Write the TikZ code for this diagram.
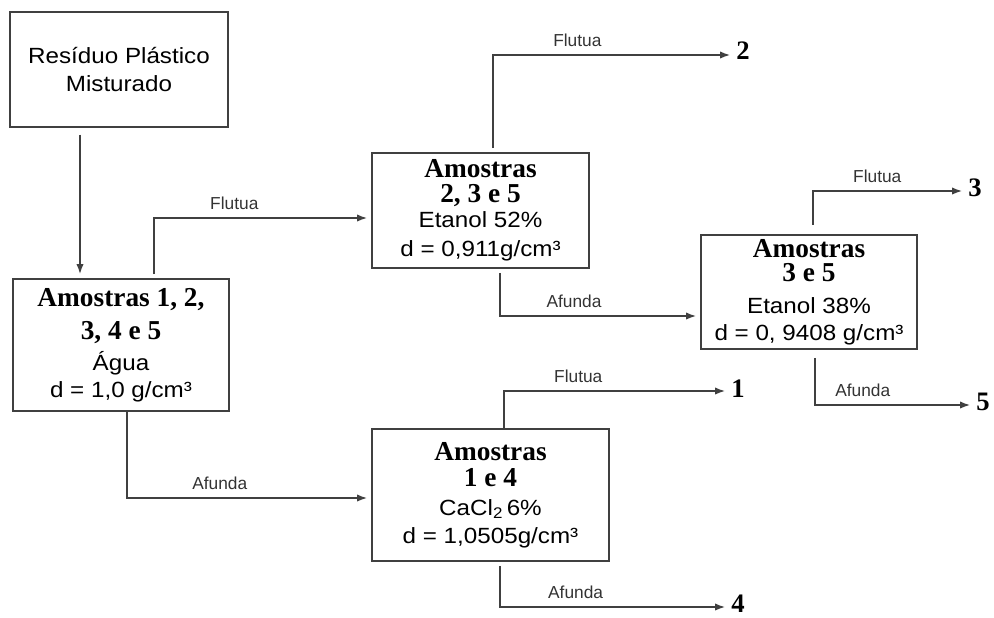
\documentclass[tikz,border=0pt]{standalone}
\usepackage{fontspec}
\setmainfont{Liberation Sans}
\newfontfamily\largo{Liberation Sans}[FakeStretch=1.1]
\newfontfamily\amfont{Liberation Serif}
\usetikzlibrary{arrows.meta,positioning}

\tikzset{
  caixa/.style={draw=black!75, line width=1.4pt, align=center, inner sep=0pt,
    font=\largo\fontsize{16.5}{22}\selectfont},
  fluxo/.style={draw=black!75, line width=1.1pt, shorten <=3pt, shorten >=3pt,
    -{Latex[length=7.5pt,width=5.5pt]}},
  rotulo/.style={font=\fontsize{13}{14}\selectfont, text=black!80, above=2pt},
  saida/.style={font=\amfont\bfseries\fontsize{20}{20}\selectfont, inner sep=1.5pt},
}
\newcommand{\amtit}[1]{{\amfont\bfseries\fontsize{20.5}{20}\selectfont #1}}

\begin{document}
\begin{tikzpicture}[x=0.75pt,y=-0.75pt]
  \useasboundingbox (0,0) rectangle (994,617);

  % caixas
  \node[caixa, minimum width=163.5pt, minimum height=86.25pt] (res) at (119,69.5)
    {Resíduo Plástico\\[-1pt]Misturado};
  \node[caixa, minimum width=162pt, minimum height=99pt] (agua) at (121,345)
    {\amtit{Amostras 1, 2,}\\[3pt]\amtit{3, 4 e 5}\\[1pt]Água\\[-2pt]d = 1,0 g/cm³};
  \node[caixa, minimum width=162.75pt, minimum height=86.25pt] (etanol52) at (480.5,210.5)
    {\amtit{Amostras}\\[-3.5pt]\amtit{2, 3 e 5}\\[-3.5pt]Etanol 52\%\\d = 0,911g/cm³};
  \node[caixa, minimum width=162pt, minimum height=85.5pt] (etanol38) at (809,292)
    {\amtit{Amostras}\\[-3.5pt]\amtit{3 e 5}\\[2pt]Etanol 38\%\\[-2pt]d = 0, 9408 g/cm³};
  \node[caixa, minimum width=177.75pt, minimum height=99pt] (cacl2) at (490.5,495)
    {\amtit{Amostras}\\[-2.5pt]\amtit{1 e 4}\\CaCl\textsubscript{2}\,6\%\\[-1pt]d = 1,0505g/cm³};

  % saidas
  \node[saida] (s2) at (743,51) {2};
  \node[saida] (s3) at (975,188) {3};
  \node[saida] (s1) at (738,389) {1};
  \node[saida] (s5) at (983,402) {5};
  \node[saida] (s4) at (738,604) {4};

  % ligacoes
  \coordinate (ra) at (80,0);
  \draw[fluxo, shorten <=5pt] (res.south -| ra) -- (agua.north -| ra);

  \coordinate (af) at (154,218);
  \draw[fluxo] (agua.north -| af) -- (af) -- node[rotulo, pos=.37] {Flutua} (af -| etanol52.west);
  \coordinate (aa) at (127,498);
  \draw[fluxo, shorten <=0pt] (agua.south -| aa) -- (aa) -- node[rotulo, pos=.38] {Afunda} (aa -| cacl2.west);

  \coordinate (ef) at (493,55);
  \draw[fluxo] (etanol52.north -| ef) -- (ef) -- node[rotulo, pos=.35] {Flutua} (ef -| s2.west);
  \coordinate (ea) at (500,316);
  \draw[fluxo] (etanol52.south -| ea) -- (ea) -- node[rotulo, pos=.37] {Afunda} (ea -| etanol38.west);

  \coordinate (tf) at (813,191);
  \draw[fluxo, shorten <=7pt] (etanol38.north -| tf) -- (tf) -- node[rotulo, pos=.42] {Flutua} (tf -| s3.west);
  \coordinate (ta) at (815,405);
  \draw[fluxo, shorten <=6pt] (etanol38.south -| ta) -- (ta) -- node[rotulo, pos=.3] {Afunda} (ta -| s5.west);

  \coordinate (cf) at (504,391);
  \draw[fluxo, shorten <=0pt] (cacl2.north -| cf) -- (cf) -- node[rotulo, pos=.33] {Flutua} (cf -| s1.west);
  \coordinate (ca) at (500,607);
  \draw[fluxo] (cacl2.south -| ca) -- (ca) -- node[rotulo, pos=.33] {Afunda} (ca -| s4.west);
\end{tikzpicture}
\end{document}
